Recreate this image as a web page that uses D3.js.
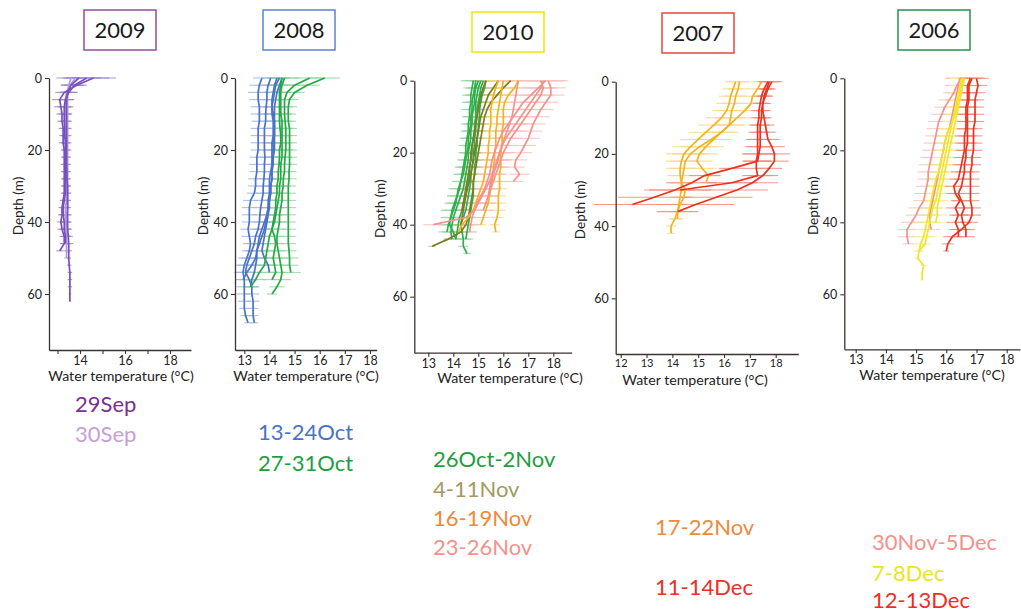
<!DOCTYPE html>
<html><head><meta charset="utf-8">
<script src="https://cdn.jsdelivr.net/npm/d3@7"></script>
<style>
body{margin:0;background:#fff}
svg{display:block}
text{font-family:Lato,"Open Sans",sans-serif}
</style>
</head><body>
<svg id="chart" width="1021" height="613"></svg>
<script>
// ---------- shared sampling grid (depth, m) ----------
const depthGrid = [0,2,4,6,8,10,12,14,16,18,20,22,24,26,28,30,32,34,36,38,40,42,44,46,48,50,52,54,56,58,60,62,64,66,68];
const depthTicks = [0,20,40,60];
const years = ["2009","2008","2010","2007","2006"];

// ---------- 2009 ----------
const t2009_29Sep = [
 [13.95,13.6,13.45,13.4,13.4,13.4,13.4,13.4,13.4,13.4,13.4,13.4,13.4,13.42,13.42,13.45,13.45,13.45,13.45,13.45,13.45,13.45,13.48,13.5,13.5,13.5,13.52,13.55,13.55,13.55,13.55,13.55],
 [14.6,13.85,13.3,13.1,13.15,13.2,13.2,13.25,13.25,13.25,13.3,13.3,13.3,13.3,13.3,13.3,13.3,13.25,13.2,13.2,13.15,13.2,13.3,13.3,13.1],
 [14.3,13.75,13.5,13.35,13.3,13.3,13.3,13.32,13.32,13.35,13.35,13.35,13.35,13.35,13.35,13.35,13.35,13.3,13.25,13.25,13.3,13.3,13.35,13.35]
];
const sd2009_29Sep = [1.0,0.45,0.4,0.35,0.3,0.25,0.2,0.2,0.18,0.18,0.15,0.15,0.15,0.15,0.15,0.15,0.15,0.15,0.15,0.18,0.18,0.2,0.2,0.2,0.15,0.1,0.1,0.1,0.1,0.1,0.05,0.05];
const t2009_30Sep = [
 [13.6,13.5,13.45,13.45,13.45,13.45,13.45,13.45,13.45,13.45,13.45,13.45,13.45,13.45,13.45,13.45,13.45,13.45,13.45,13.4,13.4,13.4,13.4,13.4,13.4,13.4],
 [13.8,13.55,13.4,13.35,13.35,13.38,13.38,13.38,13.38,13.38,13.4,13.4,13.4,13.4,13.4,13.4,13.4,13.4,13.35,13.35,13.35,13.4,13.4]
];
const sd2009_30Sep = [0.4,0.35,0.3,0.25,0.2,0.2,0.2,0.18,0.18,0.18,0.18,0.15,0.15,0.15,0.15,0.15,0.15,0.15,0.15,0.2,0.2,0.2,0.2,0.15,0.15,0.1];

// ---------- 2008 ----------
const t2008_13Oct = [
 [13.7,13.6,13.55,13.55,13.6,13.6,13.6,13.55,13.55,13.55,13.55,13.5,13.5,13.5,13.45,13.45,13.4,13.25,13.2,13.2,13.2,13.15,13.2,13.25,13.2,13.1,13.0,12.95,13.0,13.0,13.0,13.0,13.0,13.05,13.15],
 [14.05,13.95,13.9,13.9,13.87,13.85,13.85,13.8,13.8,13.8,13.8,13.82,13.8,13.8,13.78,13.75,13.75,13.7,13.65,13.62,13.6,13.55,13.45,13.4,13.3,13.2,13.1,13.05,13.2,13.3,13.3,13.35,13.35,13.35,13.4],
 [14.4,14.25,14.2,14.15,14.1,14.1,14.15,14.15,14.15,14.1,14.1,14.1,14.1,14.05,14.0,14.0,14.0,13.95,13.95,13.9,13.85,13.8,13.7,13.6,13.5,13.45,13.3,13.1,12.95],
 [14.3,14.2,14.15,14.1,14.1,14.15,14.2,14.2,14.2,14.2,14.2,14.15,14.15,14.1,14.1,14.05,14.05,14.0,14.0,13.95,13.9,13.85,13.8,13.75,13.7,13.8,13.95,14.0],
 [14.5,14.4,14.3,14.25,14.2,14.2,14.2,14.2,14.2,14.15,14.15,14.15,14.1,14.1,14.1,14.05,14.05,14.0,13.95,13.9,13.8,13.7,13.6,13.55,13.5,13.5,13.45,13.4,13.3,13.25]
];
const sd2008_13Oct = [0.35,0.4,0.4,0.35,0.35,0.35,0.3,0.3,0.3,0.3,0.3,0.3,0.3,0.3,0.3,0.3,0.3,0.3,0.3,0.3,0.3,0.3,0.3,0.3,0.3,0.35,0.35,0.35,0.3,0.3,0.3,0.25,0.2,0.2,0.15];
const t2008_27Oct = [
 [16.2,15.5,15.0,14.8,14.75,14.75,14.75,14.8,14.8,14.8,14.8,14.8,14.8,14.78,14.78,14.75,14.75,14.75,14.75,14.75,14.75,14.75,14.75,14.75,14.78,14.8,14.8,14.85],
 [15.6,15.0,14.7,14.6,14.6,14.6,14.62,14.65,14.65,14.65,14.65,14.62,14.6,14.6,14.55,14.55,14.5,14.5,14.45,14.4,14.4,14.35,14.3,14.3,14.35,14.4,14.45,14.5,14.45,14.3,14.1],
 [14.6,14.5,14.45,14.45,14.45,14.45,14.5,14.5,14.5,14.5,14.5,14.5,14.45,14.45,14.45,14.4,14.4,14.35,14.3,14.25,14.2,14.1,14.0,13.95,13.9,13.85,13.8,13.6,13.45,13.25],
 [14.5,14.45,14.4,14.4,14.4,14.4,14.4,14.42,14.45,14.45,14.4,14.4,14.38,14.35,14.35,14.3,14.3,14.25,14.25,14.2,14.15,14.1,14.2,14.25,14.2,14.15,14.2,14.25,14.1]
];
const sd2008_27Oct = [0.6,0.5,0.4,0.35,0.35,0.3,0.3,0.3,0.3,0.3,0.3,0.3,0.3,0.3,0.3,0.3,0.3,0.3,0.3,0.3,0.3,0.3,0.3,0.3,0.3,0.35,0.35,0.4,0.4,0.3,0.2];

// ---------- 2010 ----------
const t2010_26Oct = [
 [14.8,14.75,14.7,14.7,14.65,14.65,14.6,14.6,14.55,14.5,14.5,14.45,14.4,14.35,14.3,14.2,14.15,14.1,14.0,13.9,13.8,13.75],
 [15.0,14.9,14.85,14.85,14.8,14.75,14.75,14.7,14.7,14.65,14.6,14.6,14.55,14.5,14.45,14.4,14.3,14.2,14.1,14.0,13.95,13.9,13.95],
 [15.2,15.1,15.05,15.0,14.95,14.95,14.9,14.9,14.85,14.85,14.8,14.8,14.75,14.7,14.7,14.65,14.6,14.55,14.5,14.4,14.3,14.35,14.4,14.4,14.55],
 [15.1,15.0,14.95,14.9,14.9,14.9,14.85,14.85,14.8,14.75,14.75,14.7,14.65,14.65,14.6,14.55,14.5,14.4,14.35,14.25,14.2,14.15,14.1],
 [15.3,15.25,15.15,15.1,15.05,15.05,15.0,15.0,14.95,14.95,14.9,14.9,14.85,14.85,14.8,14.8,14.8,14.75,14.7,14.65,14.6,14.55,14.5],
 [14.9,14.85,14.8,14.75,14.75,14.7,14.7,14.65,14.6,14.6,14.55,14.5,14.45,14.4,14.3,14.25,14.15,14.05,13.95,13.9,13.85,14.0,14.1]
];
const sd2010_26Oct = [0.5,0.35,0.35,0.35,0.35,0.3,0.3,0.3,0.3,0.3,0.3,0.3,0.35,0.35,0.35,0.4,0.4,0.4,0.45,0.4,0.4,0.35,0.3,0.2,0.15];
const t2010_4Nov = [
 [16.3,16.0,15.75,15.5,15.35,15.25,15.2,15.15,15.1,15.05,15.0,14.95,14.9,14.85,14.8,14.8,14.75,14.7,14.65,14.6,14.5,14.3,13.8,13.15],
 [15.8,15.6,15.4,15.3,15.2,15.1,15.05,15.0,14.95,14.9,14.85,14.8,14.75,14.7,14.65,14.55,14.5,14.45,14.4,14.35,14.3],
 [15.3,15.2,15.1,15.05,15.0,14.95,14.9,14.85,14.8,14.75,14.7,14.7,14.65,14.6,14.55,14.5,14.45,14.4,14.35]
];
const sd2010_4Nov = [0.5,0.4,0.35,0.3,0.3,0.3,0.3,0.3,0.3,0.3,0.3,0.3,0.3,0.3,0.3,0.3,0.3,0.3,0.3,0.3,0.3,0.3,0.2,0.15];
const t2010_16Nov = [
 [16.6,16.45,16.2,16.05,16.0,16.0,16.0,15.95,15.95,15.95,15.9,15.9,15.9,15.85,15.85,15.85,15.8,15.8,15.8,15.75,15.65,15.7],
 [16.0,15.95,15.9,15.85,15.8,15.75,15.75,15.7,15.7,15.7,15.65,15.65,15.6,15.6,15.55,15.5,15.45,15.4,15.3,15.2,15.1],
 [15.8,15.7,15.6,15.55,15.5,15.5,15.5,15.45,15.45,15.4,15.4,15.35,15.3,15.25,15.2,15.1,15.0,14.9,14.8,14.6,14.35,14.2]
];
const sd2010_16Nov = [0.6,0.4,0.35,0.3,0.3,0.3,0.3,0.3,0.3,0.3,0.3,0.3,0.3,0.3,0.3,0.3,0.3,0.3,0.3,0.25,0.2,0.15];
const t2010_23Nov = [
 [17.8,17.9,17.9,17.7,17.5,17.35,17.2,17.1,17.0,16.85,16.7,16.5,16.45,16.65,16.4],
 [17.6,17.5,17.3,17.1,16.9,16.7,16.5,16.3,16.1,15.95,15.85,15.75,15.65,15.55,15.45,15.3,15.15,15.0,14.85,14.5,13.2],
 [17.7,17.4,17.1,16.8,16.6,16.4,16.2,16.0,15.85,15.75,15.65,15.55,15.5,15.45,15.35,15.25,15.1,14.95,14.85,14.75,14.7,14.65],
 [17.5,17.6,17.5,17.3,17.1,16.9,16.7,16.5,16.3,16.15,16.0,15.9,15.8,15.7,15.6,15.5,15.4,15.3,15.2],
 [16.6,16.55,16.5,16.45,16.4,16.35,16.25,16.15,16.05,15.95,15.85,15.8,15.7,15.6,15.5,15.45,15.4]
];
const sd2010_23Nov = [0.8,0.6,0.55,0.5,0.5,0.5,0.5,0.45,0.45,0.45,0.45,0.45,0.4,0.4,0.4,0.4,0.4,0.4,0.4,0.4,0.4,0.3];

// ---------- 2007 ----------
const t2007_17Nov = [
 [16.6,16.55,16.45,16.4,16.3,16.25,16.2,15.9,15.5,15.05,14.7,14.5,14.45,14.4,14.35,14.35,14.3,14.25,14.2,14.1,13.95,13.95],
 [16.45,16.35,16.25,16.2,16.1,15.9,15.6,15.3,15.0,14.7,14.45,14.35,14.3,14.3,14.35,14.5,14.45,14.3,14.2,14.2],
 [17.45,17.3,17.1,17.05,16.8,16.5,16.2,15.9,15.6,15.3,15.05,14.95,15.15,15.4,15.3]
];
const sd2007_17Nov = [0.4,0.4,0.45,0.5,0.55,0.6,0.6,0.65,0.7,0.7,0.7,0.6,0.55,0.5,0.45,0.4,0.4,0.35,0.3,0.25,0.2,0.15];
const t2007_11Dec = [
 [17.85,17.7,17.6,17.5,17.45,17.45,17.4,17.4,17.4,17.4,17.35,17.3,16.3,15.25,14.75,14.1,13.3,12.45],
 [17.7,17.55,17.45,17.4,17.35,17.35,17.3,17.3,17.3,17.3,17.3,17.25,17.25,17.3,16.3,14.3],
 [17.75,17.65,17.55,17.5,17.5,17.55,17.6,17.65,17.7,17.85,17.95,17.95,17.75,17.5,17.1,16.5,15.7,14.9,14.2]
];
const sd2007_11Dec = [0.4,0.3,0.3,0.3,0.3,0.3,0.35,0.35,0.45,0.5,0.6,0.55,0.5,0.6,1.0,1.2,1.4,1.5,0.8];

// ---------- 2006 ----------
const t2006_30Nov = [
 [16.5,16.35,16.25,16.1,15.95,15.85,15.75,15.7,15.65,15.6,15.55,15.5,15.45,15.4,15.4,15.35,15.3,15.25,15.1,15.0,14.85,14.7,14.7,14.75],
 [16.45,16.4,16.35,16.3,16.25,16.2,16.15,16.1,16.0,15.95,15.9,15.85,15.8,15.75,15.7,15.65,15.6,15.55,15.5,15.45,15.45,15.5]
];
const sd2006_30Nov = [0.5,0.4,0.35,0.35,0.35,0.35,0.35,0.35,0.35,0.35,0.35,0.35,0.35,0.35,0.35,0.35,0.35,0.35,0.35,0.35,0.35,0.3,0.3,0.2];
const t2006_7Dec = [
 [16.5,16.45,16.4,16.35,16.3,16.25,16.2,16.15,16.1,16.05,16.0,15.95,15.9,15.85,15.8,15.75,15.7,15.65,15.55,15.5,15.45,15.4,15.35,15.3,15.1,15.05,15.25,15.2,15.2],
 [16.6,16.55,16.5,16.45,16.4,16.35,16.3,16.25,16.2,16.15,16.1,16.05,16.0,15.95,15.9,15.85,15.8,15.75,15.7,15.7,15.65],
 [16.55,16.5,16.45,16.4,16.35,16.3,16.2,16.1,16.0,15.95,15.9,15.85,15.8,15.75,15.65,15.6,15.55,15.5,15.45,15.4,15.35,15.3,15.25,15.15,15.1]
];
const sd2006_7Dec = [0.4,0.35,0.3,0.3,0.3,0.3,0.3,0.3,0.3,0.3,0.3,0.3,0.3,0.3,0.3,0.3,0.3,0.3,0.3,0.3,0.3,0.3,0.3,0.2,0.15,0.1,0.1,0.05,0.05];
const t2006_12Dec = [
 [17.0,17.05,17.0,16.95,16.95,16.95,16.95,16.9,16.9,16.9,16.9,16.85,16.85,16.8,16.8,16.8,16.8,16.8,16.85,16.85,16.75,16.5,16.2,16.05,16.0],
 [16.85,16.75,16.75,16.75,16.7,16.7,16.7,16.7,16.7,16.7,16.65,16.65,16.6,16.6,16.55,16.5,16.4,16.5,16.6,16.5,16.55,16.65,16.65],
 [16.8,16.7,16.7,16.7,16.65,16.65,16.65,16.65,16.6,16.6,16.6,16.55,16.5,16.45,16.4,16.25,16.3,16.45,16.3,16.4,16.3,16.4,16.4]
];
const sd2006_12Dec = [0.4,0.3,0.3,0.3,0.3,0.3,0.3,0.3,0.3,0.3,0.3,0.3,0.3,0.3,0.3,0.3,0.3,0.3,0.3,0.3,0.3,0.3,0.3,0.2,0.1];

// ---------- legend labels ----------
const legend2009 = ["29Sep","30Sep"];
const legend2008 = ["13-24Oct","27-31Oct"];
const legend2010 = ["26Oct-2Nov","4-11Nov","16-19Nov","23-26Nov"];
const legend2007 = ["17-22Nov","11-14Dec"];
const legend2006 = ["30Nov-5Dec","7-8Dec","12-13Dec"];

// ---------- colours ----------
const C = {
  purple:"#7650BE", lilac:"#B29BDA", blue:"#4A73C5", green:"#24A843",
  olive:"#7E7C22", gold:"#F6B21B", salmon:"#F4918D", red:"#E8321E", yellow:"#EFE52A"
};

// ---------- layout (pixels) ----------
const panels = [
 {year:years[0], box:[84,10], boxColor:"#9B4A9C",
  xRef:[[13,57.5],[18,170]], left:49, right:191, top:78, px60:216, bottom:350,
  xTicks:[13,14,15,16,17,18], xLabels:[14,16,18], depthX:18, titleX:121, titleDy:31, tickFont:12.5, tickPad:2,
  groups:[
   {data:t2009_30Sep, sd:sd2009_30Sep, line:C.lilac, bar:"#B9A6DE"},
   {data:t2009_29Sep, sd:sd2009_29Sep, line:C.purple, bar:"#9C84D2"}],
  legend:legend2009, legendColors:["#7B2F8E","#C59FD6"], legendX:75, legendY:[412,442]},
 {year:years[1], box:[263,10], boxColor:"#5B82CF",
  xRef:[[13,244.3],[18,370]], left:235, right:376.7, top:78, px60:216, bottom:350,
  xTicks:[13,14,15,16,17,18], xLabels:[13,14,15,16,17,18], depthX:203, titleX:306, titleDy:31, tickFont:12.5, tickPad:2,
  groups:[
   {data:t2008_13Oct, sd:sd2008_13Oct, line:C.blue, bar:"#9FB5E4"},
   {data:t2008_27Oct, sd:sd2008_27Oct, line:C.green, bar:"#93D6A0"}],
  legend:legend2008, legendColors:["#4A73C5","#1E9E3E"], legendX:258, legendY:[440,471]},
 {year:years[2], box:[472,12], boxColor:"#F2E600",
  xRef:[[13,428.3],[18,553.3]], left:414.3, right:571.7, top:80.7, px60:216, bottom:352.7,
  xTicks:[13,14,15,16,17,18], xLabels:[13,14,15,16,17,18], depthX:380, titleX:510, titleDy:30, tickFont:12.5, tickPad:2,
  groups:[
   {data:t2010_26Oct, sd:sd2010_26Oct, line:"#2DB04A", bar:"#97D8A4"},
   {data:t2010_4Nov, sd:sd2010_4Nov, line:C.olive, bar:"#BDBB84"},
   {data:t2010_16Nov, sd:sd2010_16Nov, line:C.gold, bar:"#F9D98A"},
   {data:t2010_23Nov, sd:sd2010_23Nov, line:C.salmon, bar:"#F8C0BD"}],
  legend:legend2010, legendColors:["#1E9E3E","#A39A60","#F0883A","#F4918D"], legendX:433, legendY:[467,497,526,555]},
 {year:years[3], box:[662,13], boxColor:"#E8473A",
  xRef:[[12,620.7],[18,775.7]], left:615.7, right:798.3, top:81.7, px60:216.6, bottom:354,
  xTicks:[12,13,14,15,16,17,18], xLabels:[12,13,14,15,16,17,18], depthX:580, titleX:695, titleDy:31, tickFont:11, tickPad:1,
  groups:[
   {data:t2007_17Nov, sd:sd2007_17Nov, line:C.gold, bar:"#F9D98A"},
   {data:t2007_11Dec, sd:sd2007_11Dec, line:C.red, bar:"#F28A7E"}],
  legend:legend2007, legendColors:["#F0883A","#EE2E24"], legendX:655, legendY:[535,595]},
 {year:years[4], box:[898,10], boxColor:"#22944A",
  xRef:[[13,855.7],[18,1006.7]], left:844.3, right:1020, top:78.3, px60:216, bottom:349.3,
  xTicks:[13,14,15,16,17,18], xLabels:[13,14,15,16,17,18], depthX:813, titleX:932, titleDy:31, tickFont:12.5, tickPad:2,
  groups:[
   {data:t2006_30Nov, sd:sd2006_30Nov, line:C.salmon, bar:"#F8C0BD"},
   {data:t2006_7Dec, sd:sd2006_7Dec, line:C.yellow, bar:"#F5F08A"},
   {data:t2006_12Dec, sd:sd2006_12Dec, line:C.red, bar:"#F28A7E"}],
  legend:legend2006, legendColors:["#F4918D","#EDE420","#EE2E24"], legendX:872, legendY:[550,581,608]}
];

const svg = d3.select("#chart");
const axisColor = "#3a3330";

panels.forEach(p => {
  const g = svg.append("g");
  // scales calibrated on two reference ticks, then stretched to the axis extent
  const x = d3.scaleLinear().domain([p.xRef[0][0], p.xRef[1][0]]).range([p.xRef[0][1], p.xRef[1][1]]);
  x.domain([x.invert(p.left), x.invert(p.right)]).range([p.left, p.right]);
  const y = d3.scaleLinear().domain([0, 60]).range([p.top, p.top + p.px60]);
  y.domain([0, y.invert(p.bottom)]).range([p.top, p.bottom]);

  // error bars
  p.groups.forEach(gr => {
    gr.data.forEach(prof => {
      prof.forEach((t, i) => {
        const s = gr.sd[i];
        if (s === undefined) return;
        g.append("line")
          .attr("x1", x(t - s)).attr("x2", x(t + s))
          .attr("y1", y(depthGrid[i])).attr("y2", y(depthGrid[i]))
          .attr("stroke", gr.bar).attr("stroke-width", 1.1).attr("opacity", 0.85);
      });
    });
  });
  // profile lines
  const line = d3.line().x(d => x(d.t)).y(d => y(d.d));
  p.groups.forEach(gr => {
    gr.data.forEach(prof => {
      g.append("path")
        .datum(prof.map((t, i) => ({d: depthGrid[i], t})))
        .attr("d", line).attr("fill", "none")
        .attr("stroke", gr.line).attr("stroke-width", 1.7)
        .attr("stroke-linejoin", "round");
    });
  });

  // axes
  const xAxis = d3.axisBottom(x).tickValues(p.xTicks).tickSize(4).tickSizeOuter(0).tickPadding(p.tickPad)
      .tickFormat(v => p.xLabels.includes(v) ? String(v) : "");
  const gx = g.append("g").attr("transform", `translate(0,${p.bottom})`).call(xAxis);
  const yAxis = d3.axisLeft(y).tickValues(depthTicks).tickSize(4).tickSizeOuter(0).tickPadding(3);
  const gy = g.append("g").attr("transform", `translate(${p.left},0)`).call(yAxis);
  [gx, gy].forEach(a => {
    a.select(".domain").attr("stroke", axisColor).attr("stroke-width", 1.3);
    a.selectAll(".tick line").attr("stroke", axisColor).attr("stroke-width", 1.1);
    a.selectAll(".tick text").attr("fill", "#222").style("font-size", "12.5px")
      .style("font-family", "Lato, 'Open Sans', sans-serif");
  });
  gx.selectAll(".tick text").style("font-size", p.tickFont + "px");

  // axis titles
  g.append("text").attr("x", p.titleX).attr("y", p.bottom + p.titleDy).attr("text-anchor", "middle")
    .style("font-size", "14.2px").attr("fill", "#222").text("Water temperature (°C)");
  g.append("text").attr("transform", `translate(${p.depthX},${(p.top + p.bottom) / 2 - 8}) rotate(-90)`)
    .attr("text-anchor", "middle").attr("dy", "0.35em")
    .style("font-size", "13.5px").attr("fill", "#222").text("Depth (m)");

  // year box
  g.append("rect").attr("x", p.box[0]).attr("y", p.box[1]).attr("width", 72).attr("height", 40)
    .attr("fill", "#fff").attr("stroke", p.boxColor).attr("stroke-width", 1.5);
  g.append("text").attr("x", p.box[0] + 36).attr("y", p.box[1] + 28).attr("text-anchor", "middle")
    .style("font-size", "22px").attr("fill", "#1a1a1a").text(p.year);

  // legend
  p.legend.forEach((lab, i) => {
    g.append("text").attr("x", p.legendX).attr("y", p.legendY[i])
      .style("font-size", "22px").attr("fill", p.legendColors[i]).text(lab);
  });
});
</script>
</body></html>
